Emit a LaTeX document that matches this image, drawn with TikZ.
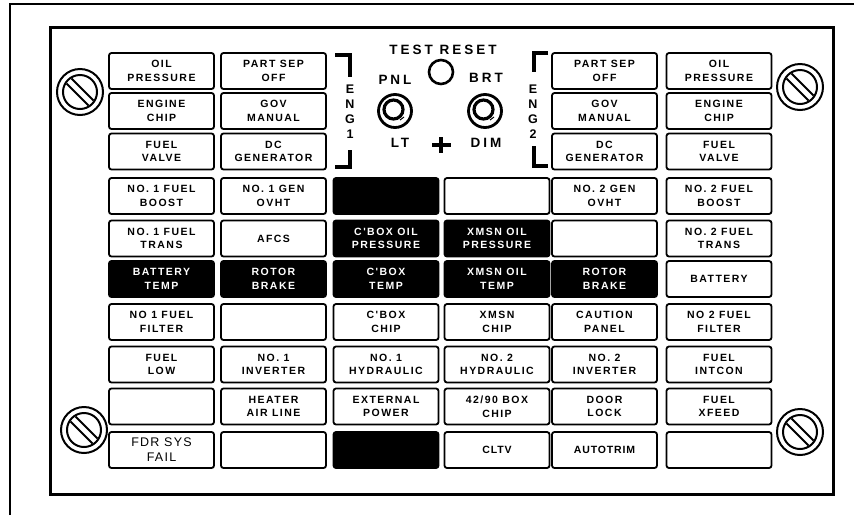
\documentclass[tikz,border=0pt]{standalone}
\usepackage{fontspec}
\setmainfont{Liberation Sans}
\newfontfamily\lampfont[LetterSpace=14]{Liberation Sans}
\newfontfamily\capfont[LetterSpace=22]{Liberation Sans}
\newfontfamily\fdrfont[LetterSpace=10]{Liberation Sans}
\newfontfamily\tightfont[LetterSpace=8]{Liberation Sans}
\usepackage{tikz}

\begin{document}
\begin{tikzpicture}[
  x=1pt, y=-1pt,
  lamp/.style={draw, line width=1.8pt, rounded corners=2.5pt,
               minimum width=105pt, minimum height=36pt, inner sep=0pt,
               align=center, font=\lampfont\bfseries\fontsize{10.5}{13.5}\selectfont},
  dark/.style={lamp, fill=black, text=white},
  fdr/.style={lamp, font=\fdrfont\fontsize{12.5}{15}\selectfont},
  tight/.style={lamp, font=\tightfont\bfseries\fontsize{10.5}{13}\selectfont},
  lbl/.style={inner sep=0pt, font=\capfont\bfseries\fontsize{13.5}{13.5}\selectfont},
  eng/.style={inner sep=0pt, align=center, font=\bfseries\fontsize{12.5}{15}\selectfont},
  bracket/.style={line width=3.5pt},
  screw/.pic={
    \draw[line width=2pt] (0,0) circle (23pt);
    \draw[line width=2pt] (0,0) circle (17pt);
    \draw[line width=2pt] (-8.5,-13.5) -- (13.5,8.5);
    \draw[line width=2pt] (-13.5,-8.5) -- (8.5,13.5);
  },
  knob/.pic={
    \draw[line width=2.8pt] (0,0) circle (16.5pt);
    \draw[line width=3.2pt] (-1.5,-1.5) circle (9.5pt);
    \draw[line width=1pt] (5,9) -- (9,6);
  },
]
\useasboundingbox (0,0) rectangle (854,515);
%% Frame and panel
\draw[line width=1.5pt] (10,515) |- (854,4);
\draw[line width=3pt] (50,27) rectangle (833,494);
\pic at (80,92)  {screw};
\pic at (800,87) {screw};
\pic at (84,430) {screw};
\pic at (800,432) {screw};
%% Row 1
\node[lamp] at (161.5,71) (oilp1) {OIL\\PRESSURE};
\node[lamp] at (273.5,71) (psep1) {PART SEP\\OFF};
\node[lamp] at (604.5,71) (psep2) {PART SEP\\OFF};
\node[lamp] at (719,71)   (oilp2) {OIL\\PRESSURE};
%% Row 2
\node[lamp] at (161.5,111) (echip1) {ENGINE\\CHIP};
\node[lamp] at (273.5,111) (gov1)   {GOV\\MANUAL};
\node[lamp] at (604.5,111) (gov2)   {GOV\\MANUAL};
\node[lamp] at (719,111)   (echip2) {ENGINE\\CHIP};
%% Row 3
\node[lamp] at (161.5,151.5) (fvlv1) {FUEL\\VALVE};
\node[lamp] at (273.5,151.5) (dcgen1) {DC\\GENERATOR};
\node[lamp] at (604.5,151.5) (dcgen2) {DC\\GENERATOR};
\node[lamp] at (719,151.5)   (fvlv2) {FUEL\\VALVE};
%% Test / dimmer block
\node[lbl] at (443,50) (test) {TEST RESET};
\node[draw, circle, line width=2.6pt, minimum size=24pt, inner sep=0pt]
  at (441,72) (reset) {};
\node[lbl] at (395,80)  (pnl) {PNL};
\node[lbl] at (486,78)  (brt) {BRT};
\node[lbl] at (400,143) (lt)  {LT};
\node[lbl] at (486,143) (dim) {DIM};
\pic at (395,111) {knob};
\pic at (485,111) {knob};
\draw[line width=3.5pt] (432,145) -- (451,145);
\draw[line width=3.5pt] (441,137) -- (441,153);
%% Engine brackets
\draw[bracket] (335,55) -| (350,77);
\draw[bracket] (350,150) |- (335,167);
\node[eng] at (350,112) (eng1) {E\\N\\G\\1};
\draw[bracket] (548,53) -| (534,72);
\draw[bracket] (534,146) |- (548,166);
\node[eng] at (533,112) (eng2) {E\\N\\G\\2};
%% Row 4
\node[lamp] at (161.5,196) (boost1) {NO. 1 FUEL\\BOOST};
\node[lamp] at (273.5,196) (ovht1)  {NO. 1 GEN\\OVHT};
\node[dark] at (386,196)   (blk4a)  {};
\node[lamp] at (497,196)   (blk4b)  {};
\node[lamp] at (604.5,196) (ovht2)  {NO. 2 GEN\\OVHT};
\node[lamp] at (719,196)   (boost2) {NO. 2 FUEL\\BOOST};
%% Row 5
\node[lamp] at (161.5,238.5) (trans1) {NO. 1 FUEL\\TRANS};
\node[lamp] at (273.5,238.5) (afcs)   {AFCS};
\node[dark] at (386,238.5)   (cbxoil) {C'BOX OIL\\PRESSURE};
\node[dark] at (497,238.5)   (xmoil)  {XMSN OIL\\PRESSURE};
\node[lamp] at (604.5,238.5) (blk5)   {};
\node[lamp] at (719,238.5)   (trans2) {NO. 2 FUEL\\TRANS};
%% Row 6
\node[dark] at (161.5,279) (battmp) {BATTERY\\TEMP};
\node[dark] at (273.5,279) (rotor1) {ROTOR\\BRAKE};
\node[dark] at (386,279)   (cbxtmp) {C'BOX\\TEMP};
\node[dark] at (497,279)   (xmtmp)  {XMSN OIL\\TEMP};
\node[dark] at (604.5,279) (rotor2) {ROTOR\\BRAKE};
\node[lamp] at (719,279)   (batt)   {BATTERY};
%% Row 7
\node[lamp] at (161.5,322) (filt1)  {NO 1 FUEL\\FILTER};
\node[lamp] at (273.5,322) (blk7)   {};
\node[lamp] at (386,322)   (cbxchp) {C'BOX\\CHIP};
\node[lamp] at (497,322)   (xmchp)  {XMSN\\CHIP};
\node[lamp] at (604.5,322) (caut)   {CAUTION\\PANEL};
\node[lamp] at (719,322)   (filt2)  {NO 2 FUEL\\FILTER};
%% Row 8
\node[lamp] at (161.5,364.5) (flow)  {FUEL\\LOW};
\node[lamp] at (273.5,364.5) (inv1)  {NO. 1\\INVERTER};
\node[lamp] at (386,364.5)   (hyd1)  {NO. 1\\HYDRAULIC};
\node[lamp] at (497,364.5)   (hyd2)  {NO. 2\\HYDRAULIC};
\node[lamp] at (604.5,364.5) (inv2)  {NO. 2\\INVERTER};
\node[lamp] at (719,364.5)   (intcon) {FUEL\\INTCON};
%% Row 9
\node[lamp] at (161.5,406.5) (blk9)  {};
\node[lamp] at (273.5,406.5) (heat)  {HEATER\\AIR LINE};
\node[lamp] at (386,406.5)   (extp)  {EXTERNAL\\POWER};
\node[lamp] at (497,406.5)   (bxchp) {42/90 BOX\\CHIP};
\node[lamp] at (604.5,406.5) (door)  {DOOR\\LOCK};
\node[lamp] at (719,406.5)   (xfeed) {FUEL\\XFEED};
%% Row 10
\node[fdr]   at (161.5,450) (fdrsys) {FDR SYS\\FAIL};
\node[lamp]  at (273.5,450) (blk10a) {};
\node[dark]  at (386,450)   (blk10b) {};
\node[tight] at (497,450)   (cltv)   {CLTV};
\node[tight] at (604.5,450) (atrim)  {AUTOTRIM};
\node[lamp]  at (719,450)   (blk10c) {};
\end{tikzpicture}
\end{document}
